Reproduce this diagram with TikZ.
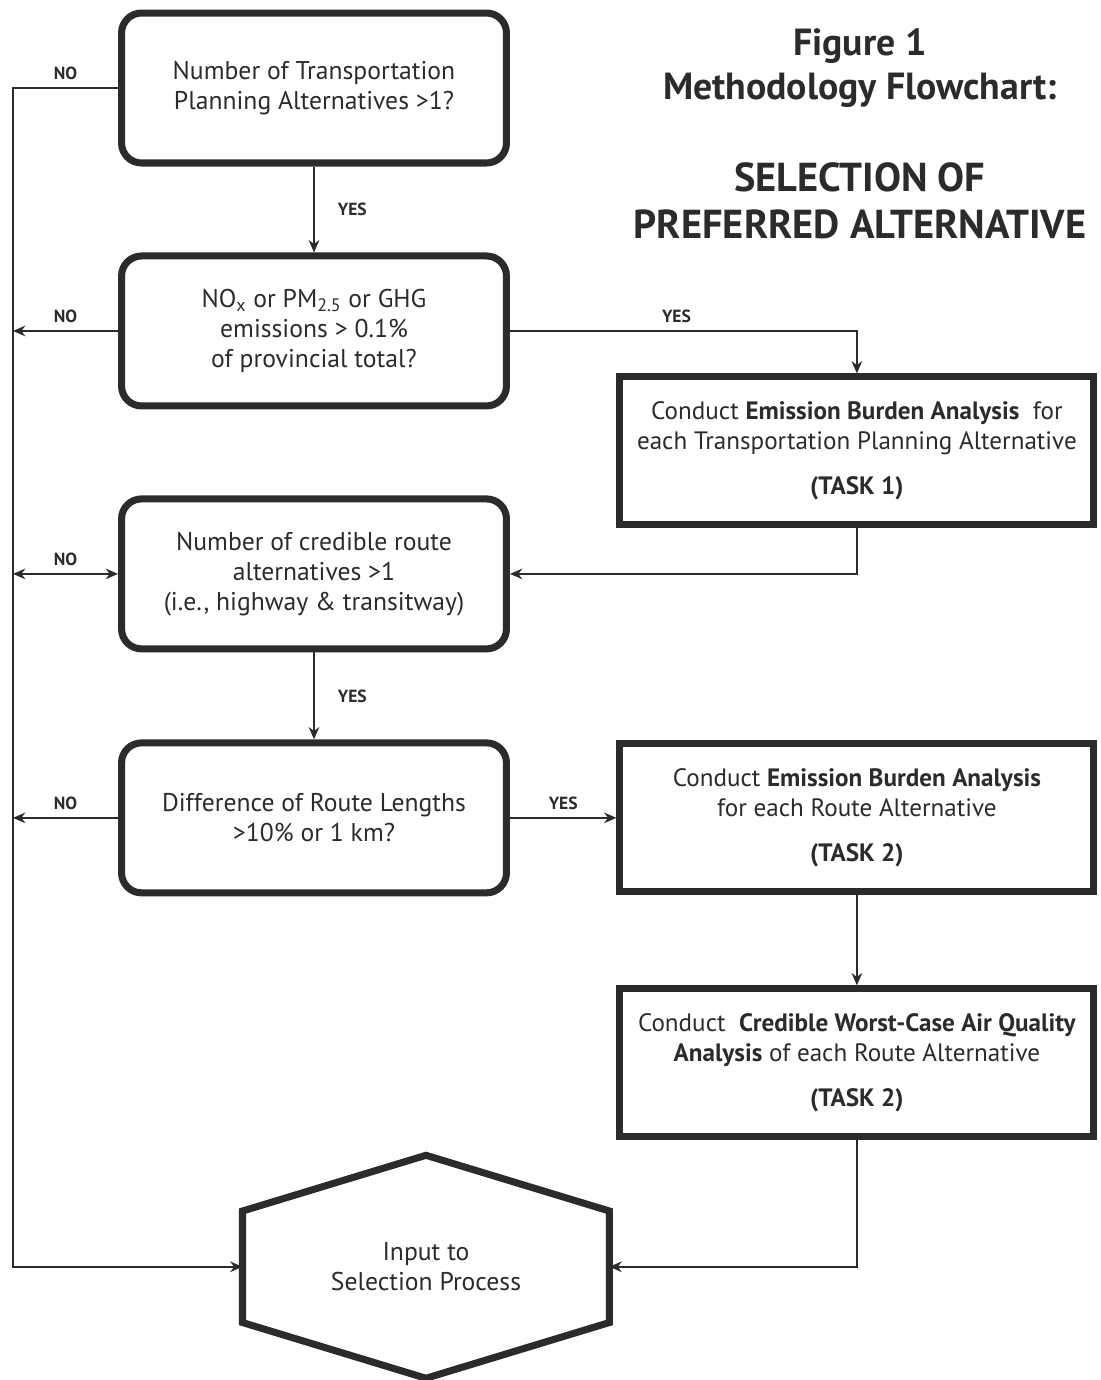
\documentclass[tikz,border=0pt]{standalone}
\usepackage{fontspec}
\setmainfont{PT Sans}
\usetikzlibrary{positioning, arrows.meta, calc}
\definecolor{ink}{rgb}{0.17,0.17,0.17}
\tikzset{
    >={Stealth[length=7pt, width=6pt]}, % Filled arrowheads
    every node/.style={text=ink},
    question/.style={draw=ink, line width=4pt, rounded corners=0.4cm, minimum width=7.7cm, minimum height=3cm, align=center, font=\fontsize{14.6}{17}\selectfont},
    task/.style={draw=ink, line width=4pt, minimum width=9.48cm, minimum height=2.96cm, align=center, font=\fontsize{14.3}{17}\selectfont},
    flow/.style={draw=ink, line width=1.2pt},
    answer/.style={font=\bfseries\fontsize{10}{12}\selectfont, inner sep=4pt},
    heading/.style={align=center, font=\bfseries\fontsize{21.5}{25}\selectfont},
}

\begin{document}
\begin{tikzpicture}[x=0.02cm, y=-0.02cm, node distance=4.86cm, on grid]
    \useasboundingbox (0,0) rectangle (1100,1380);

    % Title
    \node[heading] (fig) at (860,68) {Figure 1\\Methodology Flowchart:};
    \node[heading, font=\bfseries\fontsize{23}{27}\selectfont] (topic) at (860,201) {SELECTION OF\\PREFERRED ALTERNATIVE};

    % Questions
    \node[question] (qa) at (314,88) {Number of Transportation\\Planning Alternatives >1?};
    \node[question] (qb) [below=of qa] {NO\textsubscript{x} or PM\textsubscript{2.5} or GHG\\emissions > 0.1\%\\of provincial total?};
    \node[question] (qc) [below=of qb] {Number of credible route\\alternatives >1\\(i.e., highway \& transitway)};
    \node[question] (qd) [below=4.88cm of qc] {Difference of Route Lengths\\>10\% or 1 km?};

    % Tasks
    \node[task] (t1) [below right=2.4cm and 10.86cm of qb] {Conduct \textbf{Emission Burden Analysis}\ \ for\\each Transportation Planning Alternative\\[9pt]\textbf{(TASK 1)}};
    \node[task] (t2) [right=10.86cm of qd] {Conduct \textbf{Emission Burden Analysis}\\for each Route Alternative\\[9pt]\textbf{(TASK 2)}};
    \node[task] (t3) [below=4.9cm of t2] {Conduct\ \ \textbf{Credible Worst-Case Air Quality}\\\textbf{Analysis} of each Route Alternative\\[9pt]\textbf{(TASK 2)}};

    % Result
    \node[minimum width=7.2cm, minimum height=4.32cm, outer sep=2pt, align=center, font=\fontsize{14.6}{17}\selectfont] (sel) [below right=8.98cm and 2.24cm of qd] {Input to\\Selection Process};
    \draw[ink, line width=4pt] (sel.north) -- ($(sel.north west)!0.25!(sel.south west)$) -- ($(sel.north west)!0.75!(sel.south west)$) -- (sel.south) -- ($(sel.north east)!0.75!(sel.south east)$) -- ($(sel.north east)!0.25!(sel.south east)$) -- cycle;

    % YES branches
    \draw[flow, ->] (qa) -- node[answer, right=9pt] {YES} (qb);
    \draw[flow, ->] (qb.east) -| node[answer, above, pos=0.24] {YES} (t1.north);
    \draw[flow, ->] (t1.south) |- (qc.east);
    \draw[flow, ->] (qc) -- node[answer, right=9pt] {YES} (qd);
    \draw[flow, ->] (qd.east) -- node[answer, above] {YES} (qd.east -| t2.west);
    \draw[flow, ->] (t2) -- (t3);
    \draw[flow, ->] (t3.south) |- (sel.east);

    % NO branches
    \coordinate (rail) at (13,0);
    \draw[flow, ->] (qa.west) -- node[answer, above] {NO} (qa.west -| rail) |- (sel.west);
    \draw[flow, ->] (qb.west) -- node[answer, above] {NO} (qb.west -| rail);
    \draw[flow, <->] (qc.west -| rail) -- node[answer, above] {NO} (qc.west);
    \draw[flow, ->] (qd.west) -- node[answer, above] {NO} (qd.west -| rail);
\end{tikzpicture}
\end{document}
